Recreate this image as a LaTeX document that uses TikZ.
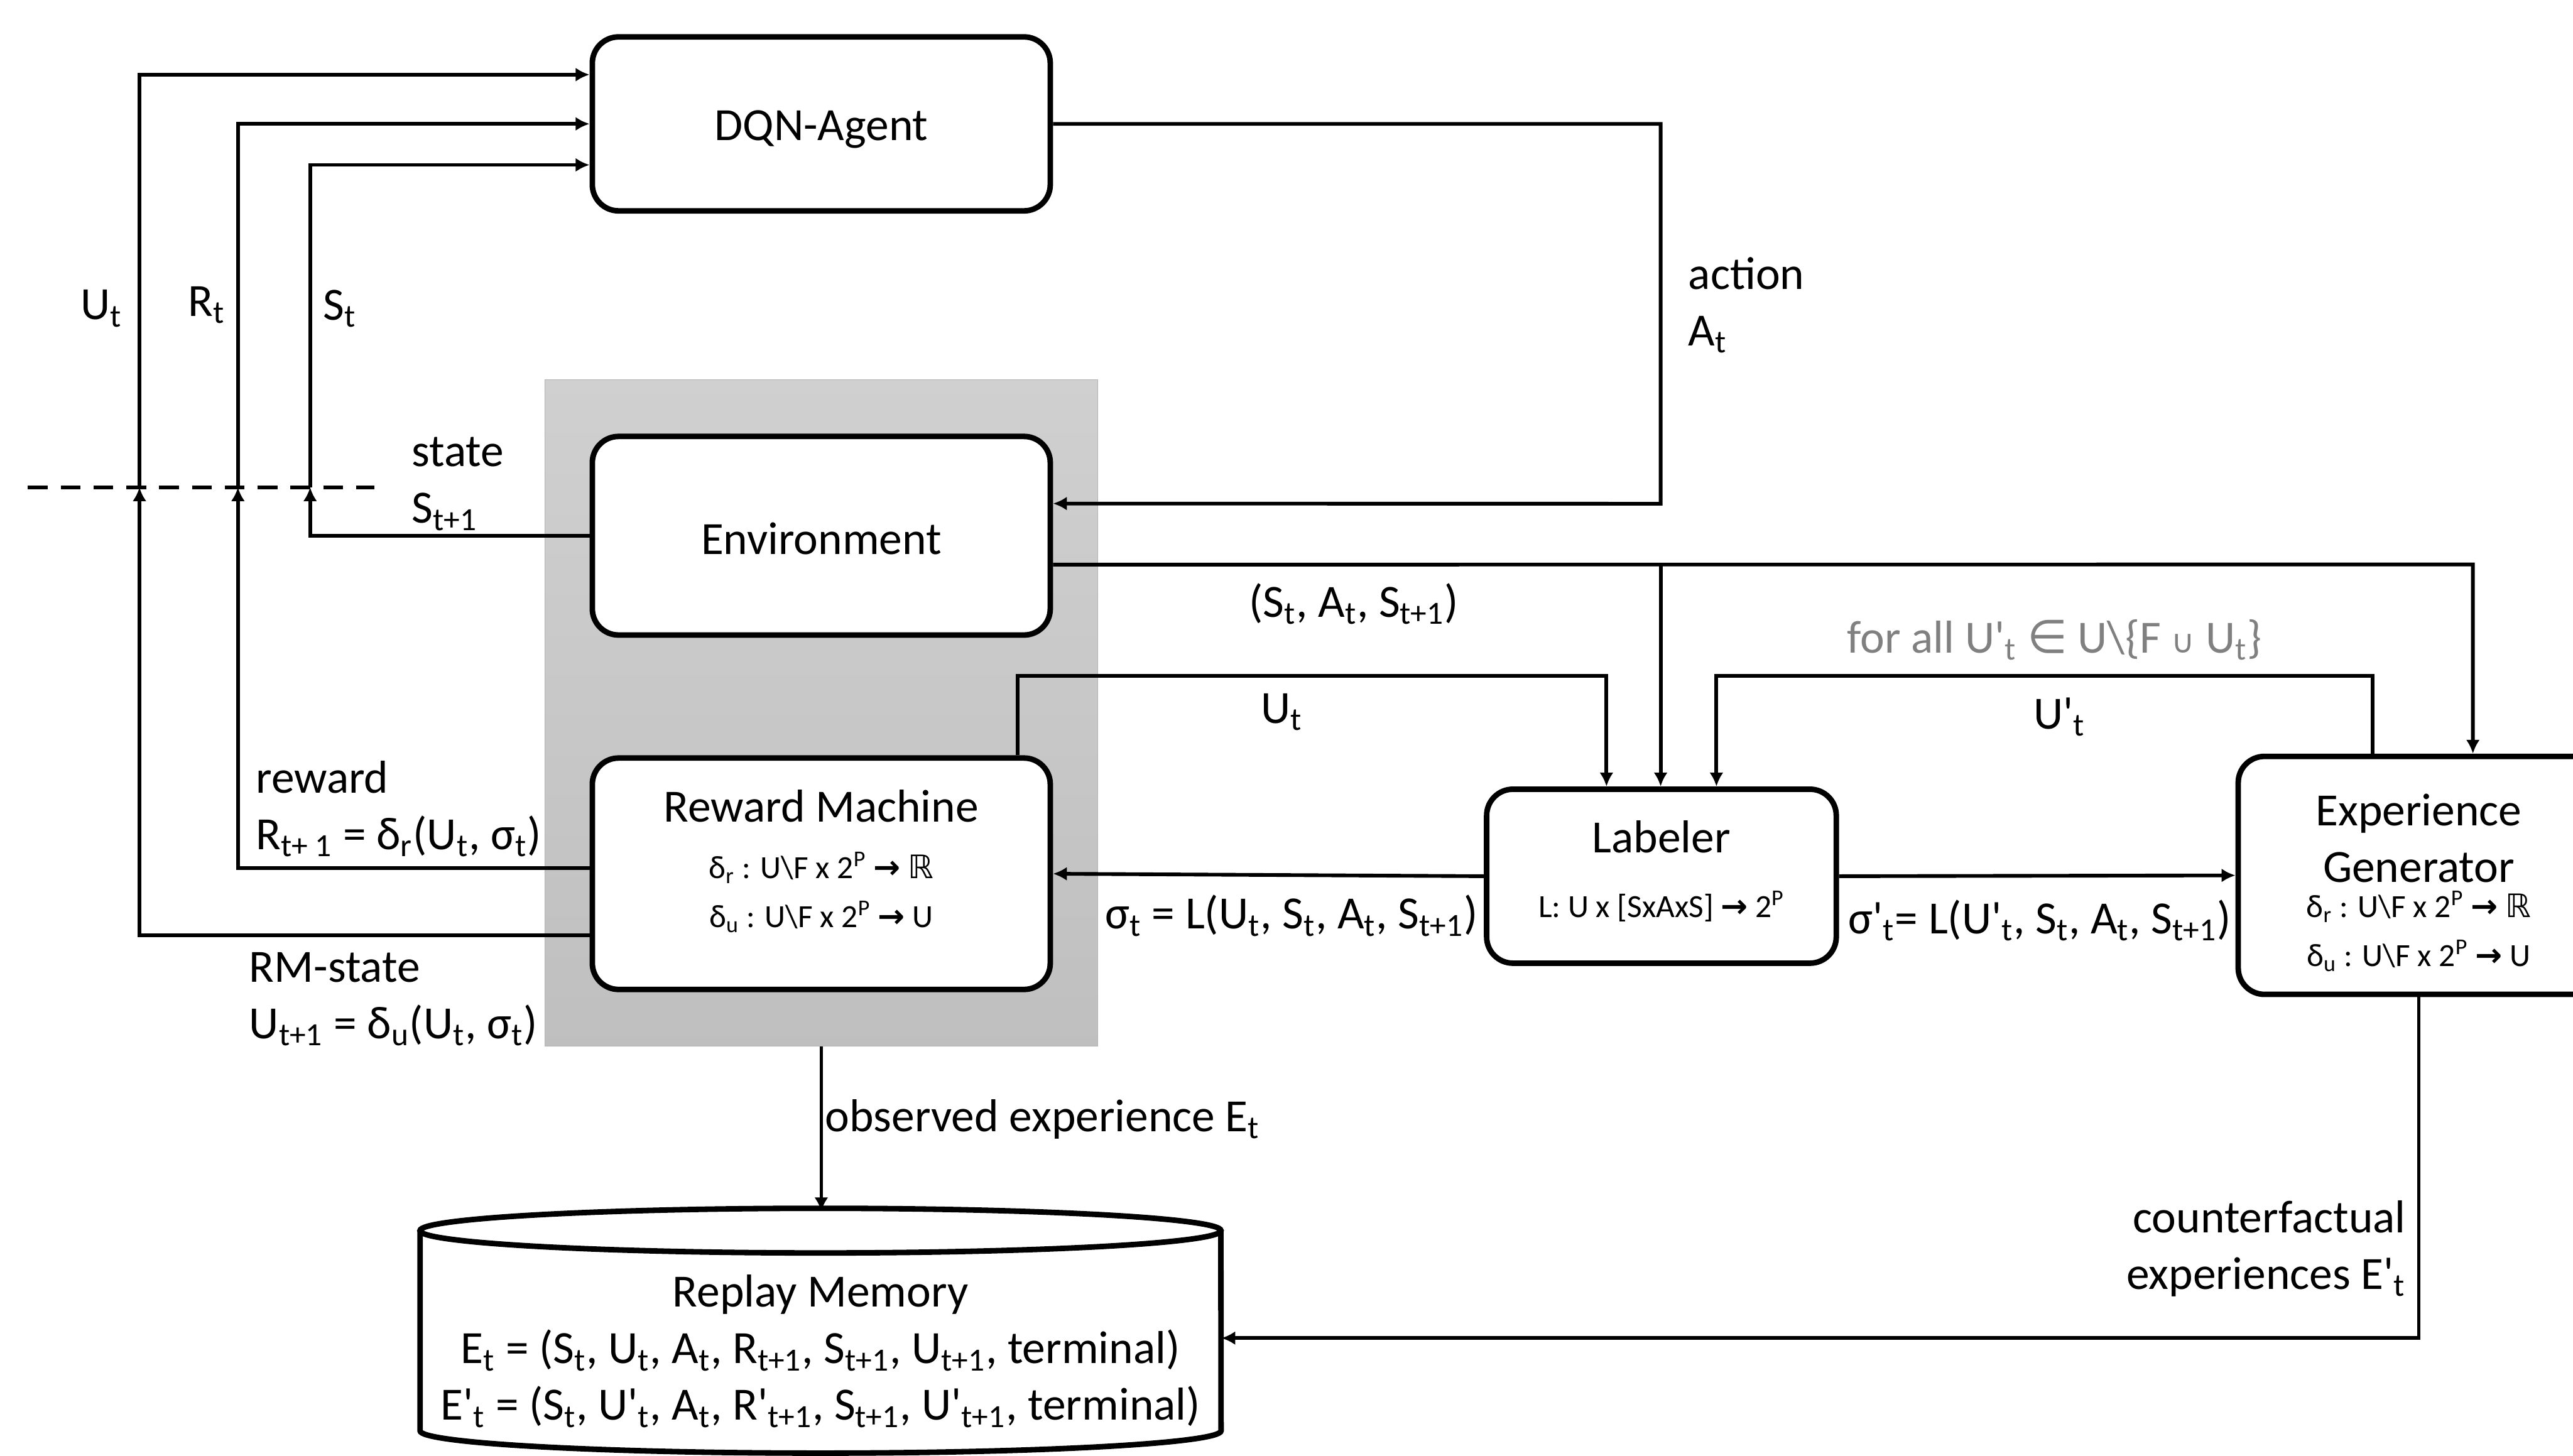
\documentclass[tikz,border=0pt]{standalone}
\usepackage{fontspec}
\setmainfont{Carlito}
\newfontfamily\dejavu{DejaVu Sans}
\usepackage{tikz}
\usetikzlibrary{arrows.meta,backgrounds,fit}
\newcommand{\low}[1]{\textsubscript{#1}}
\newcommand{\pow}[1]{\textsuperscript{#1}}
\newcommand{\pr}{\textquotesingle}
\newcommand{\toarrow}{{\dejavu\bfseries →}}
\newcommand{\setR}{{\dejavu ℝ}}
\newcommand{\fsmall}{\fontsize{14}{17}\selectfont}

\begin{document}
\begin{tikzpicture}[x=0.025cm,y=-0.025cm,>={Latex[length=6pt,width=6pt]},
    font=\fontsize{20}{24.5}\selectfont,
    block/.style={draw,line width=2.4pt,rounded corners=0.4cm,fill=white,
      align=center,inner sep=0pt},
    conn/.style={line width=1.6pt}]
  \useasboundingbox (0,0) rectangle (1568,887);

  % Agent, environment and reward machine on the gray panel.
  \node[block,minimum width=6.975cm,minimum height=2.65cm,text height=17.5pt] (dqn) at (500.5,75.5) {DQN-Agent};
  \node[block,minimum width=6.975cm,minimum height=3.025cm,text height=16pt] (env) at (500.5,326.5) {Environment};
  \node[block,minimum width=6.975cm,minimum height=3.525cm] (rm) at (500.5,532.5) {};
  \node[align=center] (rmtext) at (500.5,525)
    {Reward Machine\\{\fsmall δ\low{r} : U\textbackslash F x 2\pow{P} \toarrow{} \setR}\\[-3.2pt]
     {\fsmall δ\low{u} : U\textbackslash F x 2\pow{P} \toarrow{} U}};
  \begin{scope}[on background layer]
    \node[fit=(env)(rm),inner xsep=0.68cm,inner ysep=0.82cm,draw=gray!60,
      top color=gray!37,bottom color=gray!50] (core) {};
  \end{scope}

  % Labeler and experience generator.
  \node[block,minimum width=5.325cm,minimum height=2.65cm] (lab) at (1012.5,534) {};
  \node[align=center] (labtext) at (1012.5,531)
    {Labeler\\[3.7pt]{\fsmall L: U x [SxAxS] \toarrow{} 2\pow{P}}};
  \node[block,minimum width=5.5cm,minimum height=3.625cm] (eg) at (1474,533.5) {};
  \node[align=center] (egtext) at (1474,538)
    {Experience\\Generator\\[-9.1pt]{\fsmall δ\low{r} : U\textbackslash F x 2\pow{P} \toarrow{} \setR}\\[-3.2pt]
     {\fsmall δ\low{u} : U\textbackslash F x 2\pow{P} \toarrow{} U}};

  % Replay memory drawn as a cylinder.
  \draw[line width=2.4pt,fill=white] (256,750) -- (256,872)
    arc[start angle=180,end angle=360,x radius=6.1cm,y radius=0.34cm] -- (744,750);
  \draw[line width=2.4pt,fill=white] (500,750) ellipse[x radius=6.1cm,y radius=0.34cm];
  \node[align=center,minimum width=12.2cm,minimum height=4.25cm] (mem) at (500,823.5)
    {Replay Memory\\
     E\low{t} = (S\low{t}, U\low{t}, A\low{t}, R\low{t+1}, S\low{t+1}, U\low{t+1}, terminal)\\
     E\pr\low{t} = (S\low{t}, U\pr\low{t}, A\low{t}, R\pr\low{t+1}, S\low{t+1}, U\pr\low{t+1}, terminal)};

  % Feedback to the agent, crossing the dashed line.
  \coordinate (dashl) at (17,297);
  \coordinate (dashr) at (228,297);
  \coordinate (ucross) at (85,297);
  \coordinate (rcross) at (145,297);
  \coordinate (scross) at (189,297);
  \draw[conn,dash pattern=on 0.3cm off 0.2cm] (dashl) -- (dashr);
  \draw[conn,->] ([yshift=-0.94cm]rm.west) -| (ucross);
  \draw[conn,->] (ucross) |- ([yshift=0.75cm]dqn.west);
  \draw[conn,->] ([yshift=0.09cm]rm.west) -| (rcross);
  \draw[conn,->] (rcross) |- (dqn.west);
  \draw[conn,->] (env.west) -| (scross);
  \draw[conn,->] (scross) |- ([yshift=-0.625cm]dqn.west);
  \node (lut) at (62,188) {U\low{t}};
  \node (lrt) at (126,186) {R\low{t}};
  \node (lst) at (207,188) {S\low{t}};
  \node[anchor=west,align=left] (lstate) at (246,295) {state\\S\low{t+1}};
  \node[anchor=west,align=left] (lreward) at (151,493)
    {reward\\R\low{t+ 1} = δ\low{r}(U\low{t}, σ\low{t})};
  \node[anchor=west,align=left] (lrmstate) at (147,609)
    {RM-state\\U\low{t+1} = δ\low{u}(U\low{t}, σ\low{t})};

  % Action from the agent back to the environment.
  \coordinate (acorner) at (1012,307);
  \draw[conn,->] (dqn.east) -| (acorner) -- ([yshift=0.49cm]env.east);
  \node[anchor=west,align=left] (laction) at (1024,186) {action\\A\low{t}};

  % Transition to labeler and experience generator.
  \coordinate (tcorner) at (1507,344);
  \coordinate (tsplit) at (1012,344);
  \draw[conn,->] ([yshift=-0.44cm]env.east) -- (tcorner) -- (tcorner |- eg.north);
  \draw[conn,->] (tsplit) -- (tsplit |- lab.north);
  \node (ltrans) at (825,368) {(S\low{t}, A\low{t}, S\low{t+1})};

  % RM states into the labeler.
  \coordinate (ucorner) at (979,412);
  \coordinate (vcorner) at (1046,412);
  \draw[conn,->] ([xshift=2.99cm]rm.north) |- (ucorner) -- (ucorner |- lab.north);
  \draw[conn,->] ([xshift=-0.7cm]eg.north) |- (vcorner) -- (vcorner |- lab.north);
  \node (lu) at (781,434) {U\low{t}};
  \node (luprime) at (1255,437) {U\pr\low{t}};
  \node[text=gray] (lforall) at (1252,390)
    {for all U\pr\low{t} {\dejavu ∈} U\textbackslash\{F {\dejavu\fsmall ∪} U\low{t}\}};

  % Labels leave the labeler.
  \draw[conn,->] (lab.west) -- (rm.east);
  \draw[conn,->] (lab.east) -- (eg.west);
  \node (lsigma) at (787,558) {σ\low{t} = L(U\low{t}, S\low{t}, A\low{t}, S\low{t+1})};
  \node (lsigmap) at (1243,561) {σ\pr\low{t}= L(U\pr\low{t}, S\low{t}, A\low{t}, S\low{t+1})};

  % Experiences into the replay memory.
  \draw[conn,->] (core.south) -- (core.south |- mem.north);
  \draw[conn,->] (eg.south) |- ([yshift=0.2cm]mem.east);
  \node[anchor=west] (lobs) at (498,682) {observed experience E\low{t}};
  \node[anchor=east,align=right] (lcf) at (1471,761) {counterfactual\\experiences E\pr\low{t}};
\end{tikzpicture}
\end{document}
